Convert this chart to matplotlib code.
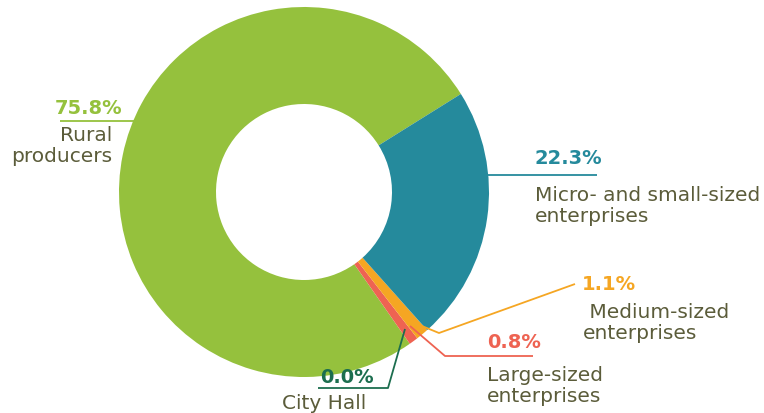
# Donut chart: share by type of supplier
import numpy as np
import matplotlib.pyplot as plt

# ---------------- data ----------------
labels = ["Rural\nproducers", "City Hall", "Large-sized\nenterprises",
          "Medium-sized\nenterprises", "Micro- and small-sized\nenterprises"]
shares = [75.8, 0.0, 0.8, 1.1, 22.3]
pct_text = ["75.8%", "0.0%", "0.8%", "1.1%", "22.3%"]
colors = ["#95c13d", "#1c6e4f", "#ee6352", "#f5a623", "#258a9c"]

TXT = "#5b5c3a"
W, H = 764, 414

fig = plt.figure(figsize=(W / 100, H / 100), dpi=100)
ax = fig.add_axes([0, 0, 1, 1])

def py(y):
    # pixel row (top origin) -> data y
    return H - y

cx, cy = 304, py(193)
R_out, R_in = 185, 88

wedges, _ = ax.pie(shares, colors=colors, startangle=32, counterclock=True,
                   radius=R_out, center=(cx, cy),
                   wedgeprops=dict(width=R_out - R_in, linewidth=0))
ax.set_xlim(0, W)
ax.set_ylim(0, H)
ax.set_aspect("equal")
ax.axis("off")

# leader lines (layout points in pixels)
leaders = {
    0: [(145, 121.5), (60, 121.5)],
    1: [(405, 330), (388, 389), (318, 389)],
    2: [(410, 327), (445, 357), (533, 357)],
    3: [(417, 325), (439, 334), (575, 285)],
    4: [(487, 176), (597, 176)],
}
for i, pts in leaders.items():
    xs = [p[0] for p in pts]
    ys = [py(p[1]) for p in pts]
    ax.plot(xs, ys, color=colors[i], lw=1.3, solid_capstyle="butt")

fs_pct = 14
fs_lab = 14.5

# percent labels: (x, y, ha)
pct_pos = {
    0: (122, 108, "right"),
    1: (320, 378, "left"),
    2: (487, 343, "left"),
    3: (582, 285, "left"),
    4: (535, 159, "left"),
}
for i, (x, y, ha) in pct_pos.items():
    ax.text(x, py(y), pct_text[i], color=colors[i], fontsize=fs_pct,
            fontweight="bold", ha=ha, va="center")

# category labels
lab_pos = {
    0: (112, 146, "right"),
    1: (282, 404, "left"),
    2: (487, 386, "left"),
    3: (583, 323, "left"),
    4: (535, 206, "left"),
}
for i, (x, y, ha) in lab_pos.items():
    txt = labels[i]
    if i == 3:
        txt = " " + txt
    ax.text(x, py(y), txt, color=TXT, fontsize=fs_lab, ha=ha, va="center",
            linespacing=1.12, multialignment=ha)

fig.savefig("out.png", dpi=100)
